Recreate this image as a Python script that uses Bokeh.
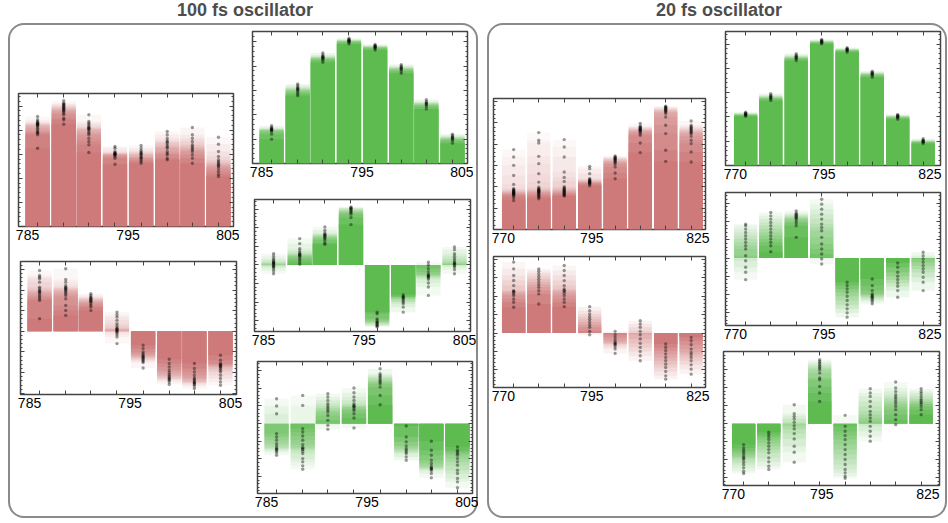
from bokeh.plotting import figure
from bokeh.models import (ColumnDataSource, FixedTicker, SingleIntervalTicker,
                          LinearAxis, Range1d, Div)
from bokeh.layouts import column, row
from bokeh.embed import file_html
from bokeh.resources import INLINE

# ---------------- data ----------------
centers_100 = [786.0, 788.6, 791.1, 793.7, 796.3, 798.9, 801.4, 804.0]
centers_20 = [772.9, 780.0, 787.2, 794.4, 801.6, 808.7, 815.9, 823.1]
ticks_100 = [785, 795, 805]
ticks_20 = [770, 795, 825]

fs100_red_top = [
    [110, 106.7, 105, 104, 103.3, 102.7, 102.3, 101.7, 101, 100, 98.3, 96.7, 95, 94, 93.3, 91.7, 78.3],
    [125.7, 123.3, 122.5, 121.7, 120.8, 120, 119.2, 118.3, 117.5, 116.7, 115.8, 115, 113.3, 111.7, 108.3, 106.7, 102.3],
    [111.7, 105, 103.3, 101.7, 100, 99, 98.3, 97.5, 96.7, 95, 93.3, 91.7, 88.3, 85, 81.7, 74],
    [80, 78.3, 75, 73.8, 73.3, 72.7, 72.3, 72, 71.3, 70, 68.3, 62.3],
    [81, 78.3, 75.7, 74.5, 73.3, 72.5, 71.7, 70, 69, 68.3, 66.7, 65, 63.3],
    [95, 91.7, 88.3, 85.7, 84.5, 83.3, 81, 79.5, 78.3, 75, 73, 71.7, 68.3, 66.7],
    [99, 91.7, 88.3, 85, 81.7, 80, 78.3, 76.7, 75, 71.7, 68.3, 63.3],
    [89.3, 82.3, 75, 70, 66.7, 65, 63.5, 62.3, 61, 60, 57.7, 55, 52.3, 50],
]
fs100_red_bottom = [
    [61, 56, 54.3, 52.7, 49.3, 44.3, 42.7, 41, 40, 39.3, 37.7, 36, 34.3, 32.7, 31, 12.7],
    [62.7, 52, 49.3, 46, 44.3, 43.5, 42.7, 41.7, 40.7, 39.3, 37.7, 36, 32.7, 26, 21, 16],
    [37.7, 36, 34.3, 33.5, 32.7, 31.8, 31, 30, 29.3, 27.7, 26, 24.3, 21],
    [19.3, 16.7, 14.3, 11, 7.7, 5.3, 3.3, 2.5, 2, 1, 0.5, -0.5, -1.3, -3.3, -5.7, -12.3],
    [-14, -17.3, -20.7, -22.3, -24, -25, -25.7, -26.7, -27.7, -28.7, -30, -31.3, -36.7],
    [-28, -32.3, -35.7, -39, -41.3, -43.3, -44.7, -46, -47.3, -48, -49, -50.7, -53.3],
    [-32.3, -37.3, -40.7, -44, -46.7, -48, -49.3, -50.7, -51.5, -52, -53.3, -54.7, -57.3],
    [-24, -29, -32.3, -33.2, -34, -35, -35.7, -37.3, -39, -40.7, -44, -47.3, -50.7, -54],
]
fs100_green_top = [
    [37.7, 36, 35, 34.5, 34, 33.5, 33, 31.7, 29.3, 24.3],
    [79.3, 77.7, 76, 75, 74.3, 73.5, 72.7, 71, 69.3, 67.7],
    [110.3, 108.3, 107, 106.3, 105.7, 105, 104.3, 103, 101],
    [125, 123.7, 123, 122.7, 122, 121.7, 120.7, 119.3],
    [118.7, 117.7, 117, 116.7, 116, 115.7, 114.7, 113.3],
    [98.7, 97, 96, 95.3, 94.5, 93.7, 92, 90],
    [63.7, 61.7, 60.5, 60, 59, 58.3, 56.7, 54.3],
    [29.3, 27.7, 26.5, 26, 25, 24.3, 22.7, 20.3],
]
fs100_green_mid = [
    [11.3, 8.7, 6.3, 4.7, 3.3, 2.5, 2, 1.3, 0.7, -0.7, -1.3, -2, -3.7, -6, -8.7],
    [26.3, 21.3, 16.3, 14, 12, 11, 10.3, 9.5, 8.7, 7, 5.3, 3, 0.7],
    [38, 34.7, 32, 30.7, 29.8, 29.3, 28.3, 27.3, 26.3, 24.7, 22, 20.7],
    [58, 57, 56.5, 56, 55, 54, 53, 52, 50.7, 47.3, 40.3],
    [-47, -48.7, -53.7, -55.3, -56.7, -57.5, -58, -59.3, -60, -60.7, -61.7],
    [-29.7, -31.3, -32, -32.7, -34, -35.3, -37, -38.7, -42, -47],
    [2.7, -0.3, -3.7, -7, -9.3, -10.5, -11, -11.8, -12.7, -14.3, -18, -22, -30.3],
    [18, 15.3, 11.3, 8.7, 6.3, 4, 2.3, 1.5, 0.7, -0.7, -2, -4.7, -8.7],
]
fs100_green_bottom = [
    [25, 17.7, 10, -10, -13.3, -16.7, -20, -22.3, -24.3, -25.5, -26, -27.3, -29, -31.7],
    [28.3, 18.3, -5, -8.3, -12.3, -16.7, -21, -23.7, -25, -25.7, -27.7, -30, -35, -38.3, -42.3, -45.7],
    [30, 26.7, 23.3, 20, 17.7, 15.7, 13.7, 11.7, 8.3, 3.3, -1.7, -5.7],
    [35.7, 31, 26.7, 23.3, 20, 18.3, 17.5, 16.7, 15, 13.3, 10, 5.7, -4.3],
    [55, 50, 48.3, 46.7, 45, 43.3, 41.7, 40, 36.7, 28.3, 19],
    [-2.3, -13.3, -18.3, -22.3, -25, -26.7, -28.3, -30, -33.3, -36.7],
    [-17.7, -26.7, -31.7, -36.7, -40, -42.7, -44.3, -45, -45.7, -47, -50, -54.3],
    [-23.3, -26.7, -28.3, -30, -31.7, -35, -38.3, -41.7, -46.7, -50, -55, -58.3, -64.3],
]
fs20_red_top = [
    [79.7, 72.3, 64, 54, 45, 40.7, 40, 39, 38.5, 38, 37.3, 37, 36.3, 36, 35.3, 35, 34.3, 33.3, 31.7, 29],
    [96.7, 89, 86.3, 73, 65.7, 55.7, 47.3, 42.3, 41, 40, 39.7, 39, 38.5, 38, 37.5, 37, 36.3, 35.5, 34.7, 34, 33, 32, 30.7],
    [89.7, 82.3, 72.3, 57.3, 52, 48, 42.7, 41.5, 40.7, 40, 39, 38.3, 37.7, 37, 36.3, 35.5, 35, 34, 33.3],
    [63, 60.7, 55.7, 50.7, 50, 49, 48.5, 48, 47.5, 47, 46.5, 46, 45, 43.7],
    [73.3, 72.5, 71.7, 71, 70.5, 70, 69.2, 68.3, 67.5, 66.7, 65, 62.3, 56.3, 50.7],
    [105.7, 103, 102.3, 101.5, 100.7, 100, 99.5, 99, 98, 97.3, 95.7, 94, 86.3, 76.7],
    [123, 122.3, 121.7, 121, 120.3, 119.5, 119, 118, 117.3, 115.7, 112.3, 104, 95.7, 79, 68],
    [108.3, 104, 102.5, 101.7, 100.5, 99.7, 98.5, 97.7, 96.5, 95.7, 93, 89, 85.7, 77.3, 67.3],
]
fs20_red_bottom = [
    [70.7, 64, 57.3, 52.3, 47.3, 42.3, 41.5, 40.7, 39, 37.3, 34, 30.7, 25.7],
    [64, 61.7, 59, 56.3, 53.7, 51, 48.3, 45.7, 42.3, 39, 29],
    [67.3, 62.3, 57.3, 52.3, 47.3, 44, 42.5, 41.7, 39.7, 37.3, 34, 30.7, 26.3],
    [26.3, 22.3, 19, 16.3, 13.7, 11, 8.3, 5.7, 1.7, -1.7],
    [1.7, -1.7, -4.3, -7, -9, -10.3, -11, -11.7, -13.7, -16, -20.3],
    [12.3, 9, 5.7, 1.7, -1.7, -6, -10.3, -14.3, -18.3, -22.7, -27.7],
    [-11, -14.3, -17.7, -21, -24.3, -27.7, -31, -34.3, -38.3, -42.7, -46],
    [-4.3, -7.7, -11.7, -16, -19.3, -21.7, -24.3, -27.7, -31.7, -36, -41],
]
fs20_green_top = [
    [53.3, 52.3, 51.8, 51.3, 50.8, 50.3, 49.3],
    [71.7, 70, 69.2, 68.3, 67.5, 66.7, 65],
    [111.7, 110, 109.2, 108.3, 107.5, 106.7, 105],
    [126, 125, 124.5, 124, 123.3, 122.7, 121.7],
    [117.7, 116.7, 116.2, 115.7, 115.2, 114.7, 113.3],
    [94.3, 93, 92.3, 91.7, 91, 90, 88.3],
    [51, 50, 49.5, 49, 48.3, 47.7, 46.3],
    [26.7, 25.3, 24.8, 24.3, 23.8, 23.3, 22],
]
fs20_green_mid = [
    [34, 32.3, 29, 25.7, 22.3, 19, 15.7, 12.3, 9, 2.3, -2.7, -9.3, -14.3, -21.7],
    [45.7, 42.3, 39, 35.7, 32.3, 29, 25.7, 22.3, 19, 15.7, 12.3, 6.3],
    [47.3, 45, 44, 43, 42, 41, 40, 39, 37, 35, 32.3, 20.7],
    [59, 54, 49, 44, 39, 34, 30.7, 27.3, 20.7, 14, 9, 4, -1, -6],
    [-24.3, -27.7, -31, -34.3, -38.3, -42.7, -47, -51, -55, -59.3],
    [-21, -27.7, -32.7, -36, -37.2, -38.3, -39.3, -40.3, -42, -43.7, -46],
    [-5, -9.3, -14.3, -18.3, -21.7, -25, -28.3, -32.7, -39.3],
    [5.7, 2.3, -1, -4.3, -7.7, -11, -14.3, -19.3, -24.3, -32.7],
]
fs20_green_bottom = [
    [-21, -24.3, -26.7, -28.7, -31, -33.3, -34.5, -36, -38.7, -41.3, -44.3, -47.7, -50],
    [-8.7, -11, -13.3, -16, -19.3, -22.7, -26, -29.3, -34.3, -38.3, -42.7, -46],
    [19, 10, 7.3, 4.7, 1.3, -2, -5.3, -10, -15.3, -22.7, -28.7, -38.7],
    [64, 62.3, 60.7, 59, 57.3, 55.7, 54, 50.7, 45.7, 44, 37.3, 30.7, 22.3],
    [8.3, -2.7, -7.7, -12, -16, -21, -26, -31, -36, -41, -46, -49.3, -52.7, -54.7],
    [35, 30.7, 27.3, 22.3, 17.3, 12.3, 9, 5.7, 2.3, -2.7, -7.7, -12.7, -17.7],
    [41.7, 35.7, 32.3, 29, 26.7, 24.7, 22.3, 20, 17.3, 14, 9, 4, -1],
    [35, 32.3, 30, 27.3, 24.7, 23, 21.3, 19.7, 17.3, 14, 9],
]

# y ranges (arbitrary units) and y tick spacing per chart
y_limits = {
    "A": (0, 133), "B": (-63.3, 70), "C": (0, 131.7), "D": (-66.3, 65.3), "E": (-70, 62.3),
    "F": (0, 130.7), "G": (-54.3, 76.3), "H": (0, 134), "I": (-67.7, 65.7), "J": (-62, 72.3),
}
y_steps = {"A": 24.1, "B": 20.7, "C": 24.3, "D": 18.5, "E": 17.7,
           "F": 21.3, "G": 18.3, "H": 24.3, "I": 18.3, "J": 18.0}

RED = "#CE7A7A"
GREEN = "#5EBB50"
FRAME = "#444444"

# frame boxes on page: left, top, width
frames = {
    "A": (18, 93, 215), "B": (20, 261, 216), "C": (252, 31, 215), "D": (254, 199, 216),
    "E": (257, 361, 215), "F": (491, 98, 212), "G": (491, 256, 212), "H": (725, 31, 215),
    "I": (725, 192, 215), "J": (723, 350, 216),
}
BL, BR, BT, BB = 4, 6, 4, 22


def make_chart(key, samples, centers, ticks, x0, ppu, color):
    fl, ft, fw = frames[key]
    y0, y1 = y_limits[key]
    fh = int(round(y1 - y0))
    p = figure(frame_width=fw, frame_height=fh,
               x_range=Range1d(x0, x0 + fw / ppu), y_range=Range1d(y0, y1),
               output_backend="svg", toolbar_location=None,
               x_axis_location=None, y_axis_location=None,
               min_border_left=BL, min_border_right=BR, min_border_top=BT, min_border_bottom=BB,
               background_fill_color="white", border_fill_color=None,
               outline_line_color=FRAME, outline_line_width=1.5)
    p.grid.visible = False
    w = (centers[1] - centers[0]) * 0.93
    L, R, B, T, A = [], [], [], [], []
    px, py = [], []
    for c, vals in zip(centers, samples):
        n = len(vals)
        pos = sorted((v for v in vals if v > 0), reverse=True)
        neg = sorted(v for v in vals if v < 0)
        # stacked overlapping rects (outermost first): composite opacity = k/n
        for side in (pos, neg):
            for i, v in enumerate(side):
                a = 1.0 / (n - i)
                L.append(c - w / 2); R.append(c + w / 2)
                B.append(min(0.0, v)); T.append(max(0.0, v)); A.append(a)
        px.extend([c] * n)
        py.extend(vals)
    p.quad(left="l", right="r", bottom="b", top="t", fill_alpha="a",
           source=ColumnDataSource(dict(l=L, r=R, b=B, t=T, a=A)),
           fill_color=color, line_color=None)
    p.scatter(px, py, size=3.4, marker="circle", fill_color="black", fill_alpha=0.4,
              line_color=None)

    xt = FixedTicker(ticks=ticks, minor_ticks=centers)
    for loc in ("below", "above"):
        ax = LinearAxis(ticker=xt, major_tick_in=0, major_tick_out=0,
                        minor_tick_in=4, minor_tick_out=0, axis_line_color=None,
                        minor_tick_line_color=FRAME, major_tick_line_color=None)
        if loc == "below":
            ax.major_label_text_font_size = "14px"
            ax.major_label_text_font = "Liberation Sans"
            ax.major_label_text_color = "black"
            ax.major_label_standoff = 3
        else:
            ax.major_label_text_font_size = "0px"
            ax.major_label_standoff = 0
        p.add_layout(ax, loc)
    yt = SingleIntervalTicker(interval=y_steps[key], num_minor_ticks=5)
    for loc in ("left", "right"):
        ax = LinearAxis(ticker=yt, major_tick_in=4, major_tick_out=0,
                        minor_tick_in=2, minor_tick_out=0, axis_line_color=None,
                        major_tick_line_color=FRAME, minor_tick_line_color=FRAME,
                        major_label_text_font_size="0px", major_label_standoff=0)
        p.add_layout(ax, loc)
    return p, fh


def build_col(keys_figs, origin_x, origin_y):
    cur_y = origin_y
    right = origin_x
    kids = []
    for key, (fig, fh) in keys_figs:
        fl, ft, fw = frames[key]
        mt = max(0, ft - BT - cur_y)
        ml = max(0, fl - BL - origin_x)
        fig.margin = (mt, 0, 0, ml)
        cur_y = cur_y + mt + BT + fh + BB
        right = max(right, origin_x + ml + BL + fw + BR)
        kids.append(fig)
    return column(*kids), right


figA = make_chart("A", fs100_red_top, centers_100, ticks_100, 784.1, 10.05, RED)
figB = make_chart("B", fs100_red_bottom, centers_100, ticks_100, 784.1, 10.05, RED)
figC = make_chart("C", fs100_green_top, centers_100, ticks_100, 784.1, 10.05, GREEN)
figD = make_chart("D", fs100_green_mid, centers_100, ticks_100, 784.1, 10.05, GREEN)
figE = make_chart("E", fs100_green_bottom, centers_100, ticks_100, 784.1, 10.05, GREEN)
figF = make_chart("F", fs20_red_top, centers_20, ticks_20, 767.2, 3.536, RED)
figG = make_chart("G", fs20_red_bottom, centers_20, ticks_20, 767.2, 3.536, RED)
figH = make_chart("H", fs20_green_top, centers_20, ticks_20, 767.2, 3.536, GREEN)
figI = make_chart("I", fs20_green_mid, centers_20, ticks_20, 767.2, 3.536, GREEN)
figJ = make_chart("J", fs20_green_bottom, centers_20, ticks_20, 767.2, 3.536, GREEN)

BOX_STYLE = {"border": "2px solid #8a8a8a", "border-radius": "16px", "box-sizing": "border-box"}
TITLE_STYLE = {"text-align": "center", "font-size": "18px", "font-weight": "bold",
               "color": "#4d4d4d", "font-family": "'Liberation Sans', Arial, sans-serif",
               "line-height": "27px"}

# panel 1: box outer at x 8..478, y 23..518 ; inner origin (10, 25)
l1, r1 = build_col([("A", figA), ("B", figB)], 10, 25)
rc1, _ = build_col([("C", figC), ("D", figD), ("E", figE)], r1, 25)
box1 = row(l1, rc1, width=470, height=495, styles=BOX_STYLE)
title1 = Div(text="100 fs oscillator", width=464, height=21, styles=TITLE_STYLE)
panel1 = column(title1, box1, width=470, margin=(0, 0, 0, 8))

# panel 2: box outer at x 487..947 ; inner origin (489, 25)
l2, r2 = build_col([("F", figF), ("G", figG)], 489, 25)
rc2, _ = build_col([("H", figH), ("I", figI), ("J", figJ)], r2, 25)
box2 = row(l2, rc2, width=460, height=495, styles=BOX_STYLE)
title2 = Div(text="20 fs oscillator", width=454, height=21, styles=TITLE_STYLE)
panel2 = column(title2, box2, width=460, margin=(0, 0, 0, 9))

root = row(panel1, panel2, margin=(-8, -16, -8, 0))

open("out.html", "w").write(file_html(root, INLINE))
